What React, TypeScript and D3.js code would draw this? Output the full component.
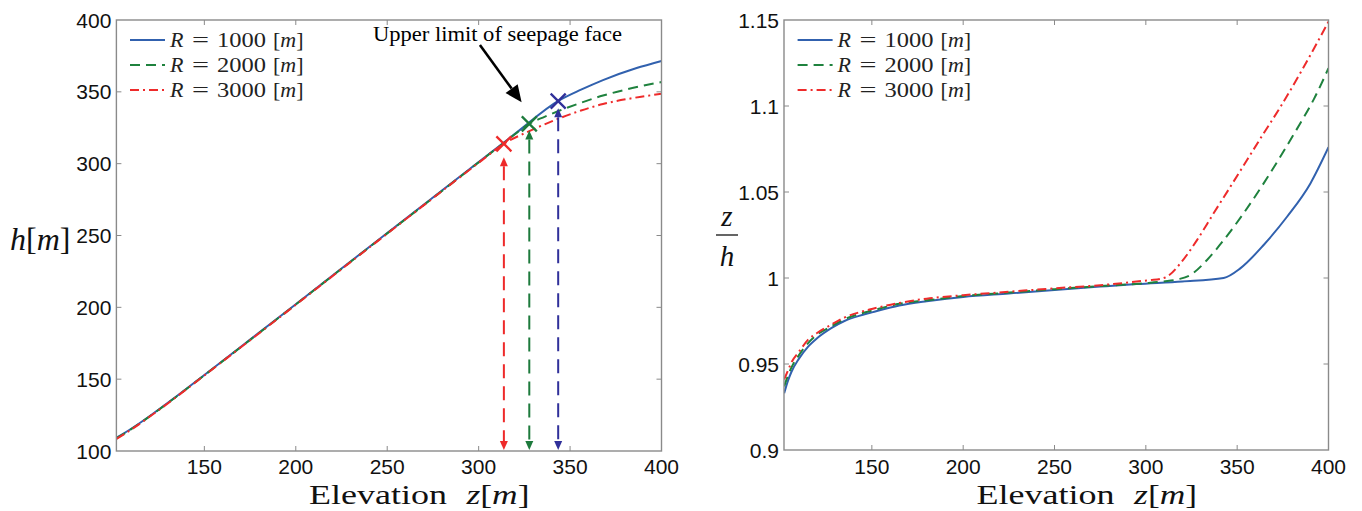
import React from 'react';
import * as d3 from 'd3';

// ---------- data ----------
const seriesR = ['1000', '2000', '3000'];
const zDomain = [101.9, 400];

// Left panel: head h [m] vs elevation z [m]
const zH_blue = [102, 110, 120, 135, 150, 175, 200, 225, 250, 275, 300, 320, 344, 356, 368, 386, 400];
const h_blue = [109.3, 115.5, 124.2, 138.3, 152.9, 177.5, 202.2, 227.0, 251.8, 276.4, 301.2, 320.9, 344.0, 351.5, 358.2, 366.4, 371.5];
const zH_green = [102, 110, 120, 135, 150, 175, 200, 225, 250, 275, 300, 315, 328, 336, 344, 356, 368, 384, 400];
const h_green = [108.9, 115.2, 124.0, 138.1, 152.7, 177.3, 202.0, 226.8, 251.5, 276.1, 300.9, 315.6, 328.0, 332.6, 336.8, 342.4, 347.4, 352.6, 356.8];
const zH_red = [102, 110, 120, 135, 150, 175, 200, 225, 250, 275, 300, 314, 328, 344, 356, 368, 384, 400];
const h_red = [108.5, 114.9, 123.8, 137.9, 152.6, 177.1, 201.8, 226.6, 251.3, 276.0, 300.6, 314.0, 322.8, 331.5, 337.0, 341.5, 345.6, 348.6];

// Right panel: z/h vs elevation z [m]
const zR_blue = [102, 104, 106, 110, 115, 120, 128, 135, 143, 150, 165, 180, 200, 225, 250, 275, 295, 320, 342.6, 351.7, 364.5, 377.3, 390.1, 400];
const r_blue = [0.933, 0.940, 0.9455, 0.953, 0.960, 0.965, 0.971, 0.975, 0.978, 0.980, 0.984, 0.9865, 0.989, 0.991, 0.993, 0.995, 0.9965, 0.998, 1.000, 1.0056, 1.0192, 1.0356, 1.055, 1.076];
const zR_green = [102, 104, 106, 110, 115, 120, 128, 135, 143, 150, 165, 180, 200, 225, 250, 275, 300, 309.7, 318, 324.3, 333.5, 342.6, 353.5, 364.5, 373.6, 384, 392, 400];
const r_green = [0.937, 0.943, 0.948, 0.955, 0.962, 0.967, 0.972, 0.976, 0.979, 0.981, 0.985, 0.987, 0.9895, 0.9915, 0.9935, 0.9953, 0.997, 0.998, 0.9993, 1.0017, 1.0105, 1.022, 1.0376, 1.055, 1.0705, 1.089, 1.104, 1.122];
const zR_red = [102, 104, 106, 110, 115, 120, 128, 135, 143, 150, 165, 180, 200, 225, 250, 275, 302.4, 308, 311.6, 318.9, 328, 337.1, 346.3, 355.4, 364.5, 374, 385, 400];
const r_red = [0.941, 0.946, 0.951, 0.957, 0.964, 0.968, 0.973, 0.977, 0.980, 0.982, 0.9855, 0.988, 0.990, 0.992, 0.994, 0.9958, 0.9988, 0.9995, 1.0008, 1.0085, 1.022, 1.0376, 1.0531, 1.0686, 1.0841, 1.100, 1.120, 1.149];

// Upper limit of seepage face (z = h), order: R=1000, 2000, 3000
const seepZ = [343.5, 327.7, 313.8];
const seepArrowTopH = [338.6, 323.0, 304.5];

// Annotation (data coordinates of left panel)
const annText = 'Upper limit of seepage face';
const annTextPos = [310.3, 385.6];
const annArrowFrom = [300.7, 382.6];
const annArrowTo = [323.5, 342.7];

const xTicks = [150, 200, 250, 300, 350, 400];
const hTicks = [100, 150, 200, 250, 300, 350, 400];
const rTicks = [0.9, 0.95, 1, 1.05, 1.1, 1.15];
const rTickLabels = ['0.9', '0.95', '1', '1.05', '1.1', '1.15'];

// ---------- styles ----------
const lineColors = ['#3161AE', '#1F823E', '#EE2B2B'];
const markColors = ['#30309A', '#1D7A3C', '#EE2A2A'];
const dashes = ['none', '10 6', '9 4 2 4'];
const frameColor = '#8a8a8a';
const sans = '"Liberation Sans", Arial, Helvetica, sans-serif';
const serif = '"Liberation Serif", "Times New Roman", serif';

function headPts(tx: number, ty: number, fx: number, fy: number, len: number, hw: number) {
  const dx = tx - fx, dy = ty - fy;
  const L = Math.hypot(dx, dy);
  const ux = dx / L, uy = dy / L;
  const bx = tx - ux * len, by = ty - uy * len;
  const nx = -uy, ny = ux;
  return {
    pts: `${tx},${ty} ${bx + nx * hw},${by + ny * hw} ${bx - nx * hw},${by - ny * hw}`,
    bx, by,
  };
}

function Frame({ x, y, xt, yt, yl }: any) {
  const [x0, x1] = x.range();
  const [y1, y0] = y.range();
  const tl = 5;
  return (
    <g>
      {xt.filter((t: number) => x(t) > x0 + 1 && x(t) < x1 - 1).map((t: number) => (
        <g key={'xt' + t} stroke={frameColor} strokeWidth={1}>
          <line x1={x(t)} x2={x(t)} y1={y1} y2={y1 - tl} />
          <line x1={x(t)} x2={x(t)} y1={y0} y2={y0 + tl} />
        </g>
      ))}
      {yt.filter((t: number) => y(t) < y1 - 1 && y(t) > y0 + 1).map((t: number) => (
        <g key={'yt' + t} stroke={frameColor} strokeWidth={1}>
          <line x1={x0} x2={x0 + tl} y1={y(t)} y2={y(t)} />
          <line x1={x1} x2={x1 - tl} y1={y(t)} y2={y(t)} />
        </g>
      ))}
      <rect x={x0} y={y0} width={x1 - x0} height={y1 - y0} fill="none" stroke={frameColor} strokeWidth={1.4} />
      {xt.map((t: number) => (
        <text key={'xl' + t} x={x(t)} y={474} textAnchor="middle" fontFamily={sans} fontSize={21} fill="#111">{t}</text>
      ))}
      {yt.map((t: number, i: number) => (
        <text key={'yl' + t} x={x0 - 5} y={y(t)} dy="0.36em" textAnchor="end" fontFamily={sans} fontSize={21} fill="#111">{yl[i]}</text>
      ))}
    </g>
  );
}

function Legend({ x0 }: { x0: number }) {
  const lx = x0 + 13.6;
  return (
    <g>
      {seriesR.map((r, i) => {
        const yy = 40 + 25 * i;
        return (
          <g key={r}>
            <line x1={lx} x2={lx + 35} y1={yy} y2={yy} stroke={lineColors[i]} strokeWidth={2} strokeDasharray={dashes[i]} />
            <text y={yy + 7} fontFamily={serif} fontSize={22} fill="#222">
              <tspan x={lx + 40} fontStyle="italic">R</tspan>
              <tspan x={lx + 62} textLength={17} lengthAdjust="spacingAndGlyphs">=</tspan>
              <tspan x={lx + 87} textLength={49} lengthAdjust="spacingAndGlyphs">{r}</tspan>
              <tspan x={lx + 143}>[</tspan>
              <tspan fontStyle="italic">m</tspan>
              <tspan>]</tspan>
            </text>
          </g>
        );
      })}
    </g>
  );
}

function XLabel({ x0 }: { x0: number }) {
  const off = x0 - 116.4;
  return (
    <g fontFamily={serif} fontSize={28} fill="#111">
      <text x={309 + off} y={504} textLength={138} lengthAdjust="spacingAndGlyphs">Elevation</text>
      <text x={466.5 + off} y={504} textLength={63} lengthAdjust="spacingAndGlyphs">
        <tspan fontStyle="italic">z</tspan>[<tspan fontStyle="italic">m</tspan>]
      </text>
    </g>
  );
}

export default function App() {
  const W = 1362, H = 511;
  const xL = d3.scaleLinear().domain(zDomain).range([116.4, 661.5]);
  const yL = d3.scaleLinear().domain([100, 400]).range([451, 20]);
  const xR = d3.scaleLinear().domain(zDomain).range([784, 1328.5]);
  const yR = d3.scaleLinear().domain([0.9, 1.15]).range([450, 20]);

  const leftSeries = [
    zH_blue.map((z, i) => [z, h_blue[i]]),
    zH_green.map((z, i) => [z, h_green[i]]),
    zH_red.map((z, i) => [z, h_red[i]]),
  ];
  const rightSeries = [
    zR_blue.map((z, i) => [z, r_blue[i]]),
    zR_green.map((z, i) => [z, r_green[i]]),
    zR_red.map((z, i) => [z, r_red[i]]),
  ];
  const lineL = d3.line<number[]>().x(d => xL(d[0])).y(d => yL(d[1])).curve(d3.curveMonotoneX);
  const lineR = d3.line<number[]>().x(d => xR(d[0])).y(d => yR(d[1])).curve(d3.curveMonotoneX);

  // annotation arrow
  const aTip = [xL(annArrowTo[0]), yL(annArrowTo[1])];
  const aTail = [xL(annArrowFrom[0]), yL(annArrowFrom[1])];
  const aHead = headPts(aTip[0], aTip[1], aTail[0], aTail[1], 17, 7.5);

  return (
    <svg width={W} height={H} style={{ position: 'absolute', left: 0, top: 0, background: '#fff' }}>
      <defs>
        <clipPath id="clipL"><rect x={116.4} y={20} width={661.5 - 116.4} height={431} /></clipPath>
        <clipPath id="clipR"><rect x={784} y={20} width={1328.5 - 784} height={430} /></clipPath>
      </defs>
      <rect width={W} height={H} fill="#fff" />

      {/* ---------- left panel ---------- */}
      <g clipPath="url(#clipL)">
        {leftSeries.map((s, i) => (
          <path key={i} d={lineL(s) || ''} fill="none" stroke={lineColors[i]} strokeWidth={2} strokeDasharray={dashes[i]} />
        ))}
      </g>
      {seepZ.map((z, i) => {
        const x = xL(z);
        const cy = yL(z);
        const topTip = yL(seepArrowTopH[i]);
        const botTip = yL(100) - 1;
        const al = 9, aw = 4;
        const c = markColors[i];
        const s = 7.5;
        return (
          <g key={'seep' + i}>
            <line x1={x} x2={x} y1={topTip + al} y2={botTip - al} stroke={c} strokeWidth={2} strokeDasharray="14 8" />
            <polygon points={`${x},${topTip} ${x - aw},${topTip + al} ${x + aw},${topTip + al}`} fill={c} />
            <polygon points={`${x},${botTip} ${x - aw},${botTip - al} ${x + aw},${botTip - al}`} fill={c} />
            <line x1={x - s} x2={x + s} y1={cy - s} y2={cy + s} stroke={c} strokeWidth={2.3} />
            <line x1={x - s} x2={x + s} y1={cy + s} y2={cy - s} stroke={c} strokeWidth={2.3} />
          </g>
        );
      })}
      <line x1={aTail[0]} y1={aTail[1]} x2={aHead.bx} y2={aHead.by} stroke="#000" strokeWidth={2.6} />
      <polygon points={aHead.pts} fill="#000" />
      <text x={xL(annTextPos[0])} y={yL(annTextPos[1])} textAnchor="middle" fontFamily={serif} fontSize={21}
        textLength={249} lengthAdjust="spacingAndGlyphs" fill="#000">{annText}</text>

      <Frame x={xL} y={yL} xt={xTicks} yt={hTicks} yl={hTicks.map(String)} />
      <Legend x0={116.4} />
      <XLabel x0={116.4} />
      <text x={10} y={250} fontFamily={serif} fontSize={32} fill="#111">
        <tspan fontStyle="italic">h</tspan>[<tspan fontStyle="italic">m</tspan>]
      </text>

      {/* ---------- right panel ---------- */}
      <g clipPath="url(#clipR)">
        {rightSeries.map((s, i) => (
          <path key={i} d={lineR(s) || ''} fill="none" stroke={lineColors[i]} strokeWidth={2} strokeDasharray={dashes[i]} />
        ))}
      </g>
      <Frame x={xR} y={yR} xt={xTicks} yt={rTicks} yl={rTickLabels} />
      <Legend x0={784} />
      <XLabel x0={784} />
      <g fontFamily={serif} fontSize={29} fill="#111" fontStyle="italic">
        <text x={727} y={226} textAnchor="middle">z</text>
        <line x1={716} x2={738} y1={235} y2={235} stroke="#111" strokeWidth={1.3} />
        <text x={727} y={266} textAnchor="middle">h</text>
      </g>
    </svg>
  );
}
